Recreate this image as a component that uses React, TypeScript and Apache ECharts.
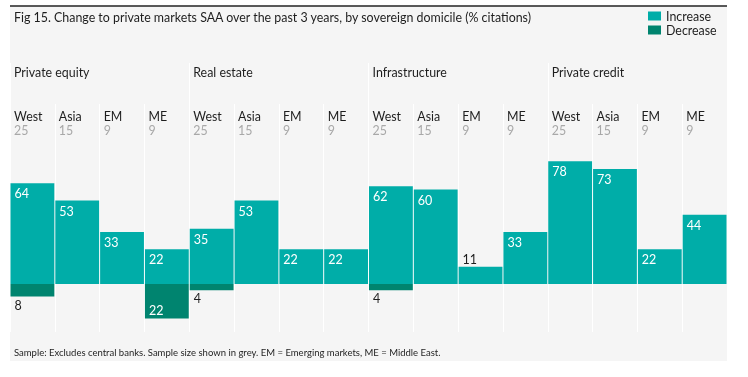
import React, { useEffect, useRef } from "react";
import * as echarts from "echarts";

const groups = ["Private equity", "Real estate", "Infrastructure", "Private credit"];
const regions = ["West", "Asia", "EM", "ME"];
const sampleSizes = [25, 15, 9, 9];
// order: group x region
const increase = [64, 53, 33, 22, 35, 53, 22, 22, 62, 60, 11, 33, 78, 73, 22, 44];
const decrease = [8, 0, 0, 22, 4, 0, 0, 0, 4, 0, 0, 0, 0, 0, 0, 0];
const titleText =
  "Fig 15. Change to private markets SAA over the past 3 years, by sovereign domicile (% citations)";
const footnoteText =
  "Sample: Excludes central banks. Sample size shown in grey. EM = Emerging markets, ME = Middle East.";

const TEAL = "#00ADA8";
const DARK_TEAL = "#00846F";
const BG = "#F5F5F5";
const TXT = "#1E1E1E";
const GREY = "#A8A8A8";
const FONT = 'Lato, "Noto Sans", sans-serif';

export default function App() {
  const ref = useRef<HTMLDivElement>(null);
  useEffect(() => {
    const chart = echarts.init(ref.current!, null, { renderer: "svg" });
    const categories = groups.flatMap((g) => regions.map((r) => `${g} ${r}`));

    const incData = increase.map((v) => ({
      value: v || null,
      label:
        v >= 15
          ? { position: "insideTopLeft", distance: 4, color: "#fff" }
          : { position: "insideTopLeft", distance: 4, offset: [0, -18], color: TXT },
    }));
    const decData = decrease.map((v) => ({
      value: v ? -v : null,
      label:
        v >= 15
          ? { position: "insideBottomLeft", distance: 4, offset: [0, 2], color: "#fff" }
          : { position: "insideBottomLeft", distance: 4, offset: [0, 19], color: TXT },
    }));

    const labelBase = {
      show: true,
      fontSize: 12.5,
      fontFamily: FONT,
      formatter: (p: any) => (p.value == null ? "" : String(Math.abs(p.value))),
    };

    chart.setOption({
      animation: false,
      textStyle: { fontFamily: FONT },
      title: {
        text: titleText,
        left: 9,
        top: 6,
        textStyle: { fontSize: 12.4, fontWeight: "normal", color: TXT, fontFamily: FONT },
      },
      legend: {
        data: ["Increase", "Decrease"],
        orient: "vertical",
        left: 648,
        top: 9,
        padding: 0,
        itemWidth: 13,
        itemHeight: 9,
        itemGap: 0,
        icon: "rect",
        selectedMode: false,
        textStyle: { fontSize: 12.4, lineHeight: 14, color: TXT, fontFamily: FONT },
      },
      graphic: [
        {
          type: "rect",
          left: 10,
          top: 6,
          z: -10,
          shape: { width: 717, height: 355 },
          style: { fill: BG },
        },
        {
          type: "line",
          z: 10,
          shape: { x1: 10, y1: 6, x2: 727, y2: 6 },
          style: { stroke: "#222", lineWidth: 1.5 },
        },
        {
          type: "text",
          left: 14,
          top: 347.5,
          style: { text: footnoteText, fontSize: 9.5, fill: TXT, fontFamily: FONT },
        },
      ],
      grid: [
        { left: 10, width: 717, top: 104, height: 228 },
        { left: 10, width: 717, top: 63, height: 269 },
      ],
      xAxis: [
        {
          type: "category",
          gridIndex: 0,
          data: categories,
          axisLine: { show: false },
          axisTick: { show: false },
          axisLabel: { show: false },
          splitLine: { show: true, interval: 0, lineStyle: { color: "#fff", width: 1 } },
        },
        {
          type: "category",
          gridIndex: 1,
          data: groups,
          axisLine: { show: false },
          axisTick: { show: false },
          axisLabel: { show: false },
          splitLine: { show: true, interval: 0, lineStyle: { color: "#fff", width: 1 } },
        },
      ],
      yAxis: [
        {
          type: "value",
          gridIndex: 0,
          min: -30.5,
          max: 114.3,
          show: false,
          splitLine: { show: false },
        },
        { type: "value", gridIndex: 1, min: 0, max: 1, show: false, splitLine: { show: false } },
      ],
      series: [
        {
          name: "Increase",
          type: "bar",
          stack: "chg",
          xAxisIndex: 0,
          yAxisIndex: 0,
          barCategoryGap: "2.2%",
          itemStyle: { color: TEAL },
          label: labelBase,
          data: incData,
        },
        {
          name: "Decrease",
          type: "bar",
          stack: "chg",
          xAxisIndex: 0,
          yAxisIndex: 0,
          barCategoryGap: "2.2%",
          itemStyle: { color: DARK_TEAL },
          label: labelBase,
          data: decData,
        },
        {
          type: "custom",
          xAxisIndex: 0,
          yAxisIndex: 0,
          silent: true,
          clip: false,
          data: categories.map((_, i) => [i, 0]),
          encode: { x: 0, y: 1 },
          renderItem: (params: any, api: any) => {
            const i = params.dataIndex;
            const x = api.coord([i, 0])[0] - api.size([1, 0])[0] / 2 + 4;
            return {
              type: "group",
              children: [
                {
                  type: "text",
                  x,
                  y: 116,
                  style: {
                    text: regions[i % regions.length],
                    fill: TXT,
                    font: `12.4px ${FONT}`,
                    verticalAlign: "middle",
                  },
                },
                {
                  type: "text",
                  x,
                  y: 130,
                  style: {
                    text: String(sampleSizes[i % regions.length]),
                    fill: GREY,
                    font: `12.4px ${FONT}`,
                    verticalAlign: "middle",
                  },
                },
              ],
            };
          },
        },
        {
          type: "custom",
          xAxisIndex: 1,
          yAxisIndex: 1,
          silent: true,
          clip: false,
          data: groups.map((_, i) => [i, 0]),
          encode: { x: 0, y: 1 },
          renderItem: (params: any, api: any) => {
            const i = params.dataIndex;
            const x = api.coord([i, 0])[0] - api.size([1, 0])[0] / 2 + 4;
            return {
              type: "text",
              x,
              y: 72,
              style: {
                text: groups[i],
                fill: TXT,
                font: `12.4px ${FONT}`,
                verticalAlign: "middle",
              },
            };
          },
        },
      ],
    });
    return () => chart.dispose();
  }, []);
  return (
    <div
      ref={ref}
      style={{ position: "fixed", left: 0, top: 0, width: 748, height: 377 }}
    />
  );
}
